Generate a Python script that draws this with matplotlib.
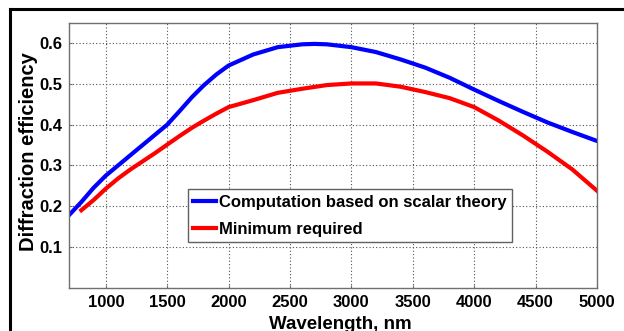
import numpy as np
import matplotlib
matplotlib.use('Agg')
import matplotlib.pyplot as plt
from matplotlib.lines import Line2D

# Data
wl_scalar = [700, 800, 900, 1000, 1100, 1200, 1300, 1400, 1500, 1600, 1700, 1800, 1900, 2000,
             2200, 2400, 2600, 2700, 2800, 3000, 3200, 3400, 3600, 3800, 4000, 4200, 4400,
             4600, 4800, 5000]
eff_scalar = [0.178, 0.21, 0.245, 0.275, 0.30, 0.325, 0.35, 0.375, 0.40, 0.433, 0.467, 0.497, 0.523, 0.545,
              0.572, 0.59, 0.597, 0.598, 0.597, 0.59, 0.578, 0.56, 0.54, 0.515, 0.486, 0.458, 0.431,
              0.405, 0.382, 0.36]

wl_min = [800, 900, 1000, 1100, 1200, 1300, 1400, 1500, 1600, 1700, 1800, 1900, 2000, 2200, 2400,
          2600, 2800, 3000, 3200, 3400, 3600, 3800, 4000, 4200, 4400, 4600, 4800, 5000]
eff_min = [0.19, 0.215, 0.243, 0.268, 0.29, 0.31, 0.33, 0.351, 0.372, 0.392, 0.41, 0.427, 0.443, 0.46, 0.478,
           0.488, 0.497, 0.501, 0.501, 0.493, 0.48, 0.465, 0.443, 0.41, 0.373, 0.333, 0.29, 0.238]

xticks = [1000, 1500, 2000, 2500, 3000, 3500, 4000, 4500, 5000]
yticks = [0.1, 0.2, 0.3, 0.4, 0.5, 0.6]

plt.rcParams['font.family'] = ['Liberation Sans', 'DejaVu Sans']
plt.rcParams['font.weight'] = 'bold'

fig = plt.figure(figsize=(6.24, 3.31), dpi=100)
ax = fig.add_axes([0.1106, 0.1308, 0.846, 0.8006])

ax.plot(wl_scalar, eff_scalar, color='#0000ff', lw=3, label='Computation based on scalar theory')
ax.plot(wl_min, eff_min, color='#ff0000', lw=3, label='Minimum required')

ax.set_xlim(700, 5000)
ax.set_ylim(0, 0.65)
ax.set_xticks(xticks)
ax.set_yticks(yticks)
ax.set_xticklabels([str(t) for t in xticks], fontsize=12, fontweight='bold')
ax.set_yticklabels(['%.1f' % t for t in yticks], fontsize=12, fontweight='bold')
ax.tick_params(direction='in', length=2, color='#707070', pad=5)
ax.grid(True, color='#505050', linestyle=(0, (1, 2)), lw=0.8)
for s in ax.spines.values():
    s.set_color('#707070')
    s.set_linewidth(1.0)

ax.set_xlabel('Wavelength, nm', fontsize=13.5, fontweight='bold')
ax.set_ylabel('Diffraction efficiency', fontsize=14.5, fontweight='bold')
ax.xaxis.set_label_coords(0.513, -0.105)
ax.yaxis.set_label_coords(-0.058, 0.515)

leg = ax.legend(loc='lower left', bbox_to_anchor=(0.225, 0.172), borderaxespad=0,
                fancybox=False, edgecolor='#606060', framealpha=1, handlelength=1.35,
                handletextpad=0.2, borderpad=0.33, labelspacing=0.7,
                prop={'size': 12, 'weight': 'bold'})
leg.get_frame().set_linewidth(1.0)

# black frame lines around the picture (top and left)
fig.add_artist(Line2D([0.016, 1.0], [0.9728, 0.9728], color='black', lw=2.2, transform=fig.transFigure))
fig.add_artist(Line2D([0.016, 0.016], [0.0, 0.9728], color='black', lw=2.2, transform=fig.transFigure))

fig.savefig('out.png', dpi=100)
